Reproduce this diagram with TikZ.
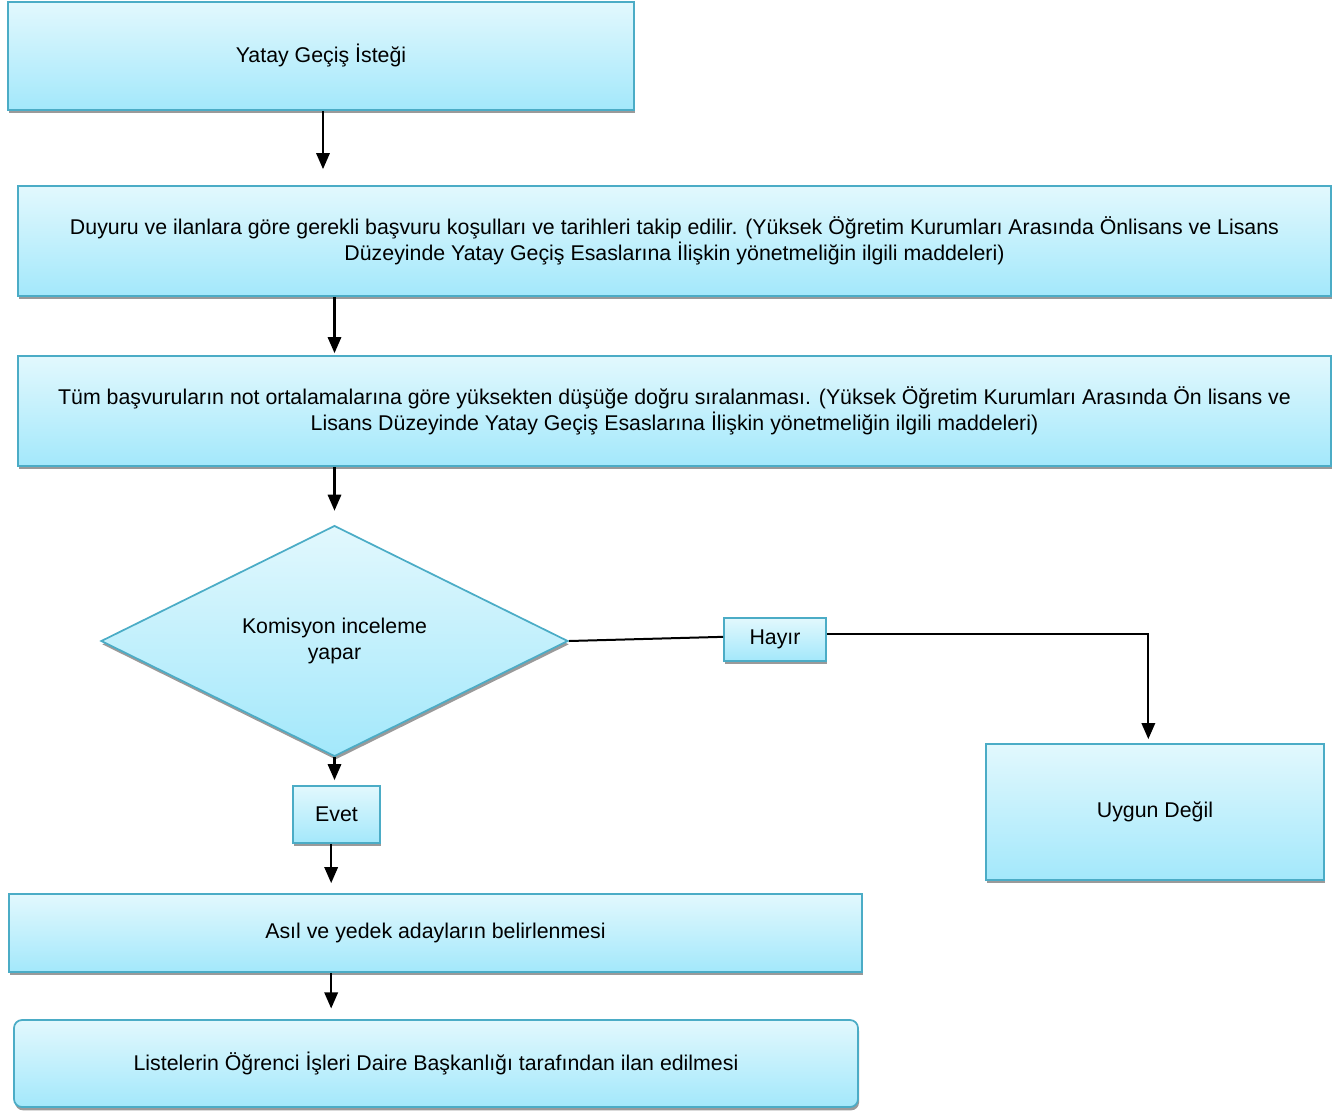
\documentclass[tikz,border=0pt]{standalone}
\usepackage{fontspec}
\setmainfont{Liberation Sans}
\usetikzlibrary{shapes.geometric,shadows,arrows.meta}
\definecolor{bordc}{HTML}{4BACC6}
\definecolor{topc}{HTML}{E2F8FD}
\definecolor{botc}{HTML}{A3E8FB}
\definecolor{shadc}{HTML}{9A9A9A}
\tikzset{
  box/.style={draw=bordc, line width=1.3pt, top color=topc, bottom color=botc,
    inner sep=2pt, align=center, font=\fontsize{16}{19.5}\selectfont,
    drop shadow={shadow xshift=0.8pt, shadow yshift=-2.5pt, fill=shadc, opacity=1}},
  arr/.style={line width=1.6pt, -{Triangle[width=10pt,length=12pt]}},
  conn/.style={line width=1.5pt}
}
\begin{document}
\begin{tikzpicture}[x=0.75pt,y=-0.75pt]
\useasboundingbox (0,0) rectangle (1333,1110);
\node[box, minimum width=469.5pt, minimum height=81pt] (b1) at (321,56) {Yatay Geçiş İsteği};
\node[box, minimum width=984.75pt, minimum height=82.5pt] (b2) at (674.5,241)
  {Duyuru ve ilanlara göre gerekli başvuru koşulları ve tarihleri takip edilir. (Yüksek Öğretim Kurumları Arasında Önlisans ve Lisans\\Düzeyinde Yatay Geçiş Esaslarına İlişkin yönetmeliğin ilgili maddeleri)};
\node[box, minimum width=984.75pt, minimum height=82.5pt] (b3) at (674.5,411)
  {Tüm başvuruların not ortalamalarına göre yüksekten düşüğe doğru sıralanması. (Yüksek Öğretim Kurumları Arasında Ön lisans ve\\Lisans Düzeyinde Yatay Geçiş Esaslarına İlişkin yönetmeliğin ilgili maddeleri)};
\node[box, diamond, inner sep=0pt, minimum width=350.25pt, minimum height=172.5pt] (dia) at (334.5,641) {Komisyon inceleme\\yapar};
\node[box, minimum width=76.5pt, minimum height=32.25pt] (hayir) at (775,639.5) {Hayır};
\node[box, minimum width=253.5pt, minimum height=102pt] (uygun) at (1155,812) {Uygun Değil};
\node[box, minimum width=65.25pt, minimum height=42.75pt] (evet) at (336.5,814.5) {Evet};
\node[box, minimum width=639.75pt, minimum height=58.5pt] (asil) at (435.5,933) {Asıl ve yedek adayların belirlenmesi};
\node[box, rounded corners=6pt, minimum width=633pt, minimum height=65.25pt] (list) at (436,1063.5) {Listelerin Öğrenci İşleri Daire Başkanlığı tarafından ilan edilmesi};

\draw[arr, shorten >=12pt] ([xshift=1.5pt]b1.south) -- ([xshift=1.5pt]b1.south |- b2.north);
\draw[arr, shorten >=1.5pt] (b2.south -| dia.north) -- (b3.north -| dia.north);
\draw[arr, shorten >=10.5pt] (b3.south -| dia.north) -- (dia.north);
\draw[arr, shorten >=3.75pt] (dia.south) -- (evet.north -| dia.south);
\draw[arr, shorten >=7.5pt] ([xshift=-4pt]evet.south) -- ([xshift=-4pt]evet.south |- asil.north);
\draw[arr, shorten >=8pt] ([xshift=-4pt]asil.south -| evet.south) -- ([xshift=-4pt]list.north -| evet.south);
\draw[conn] (dia.east) -- ([yshift=2pt]hayir.west);
\draw[arr, shorten >=3pt] ([yshift=4pt]hayir.east) -- ([xshift=-5pt,yshift=4pt]hayir.east -| uygun.north) -- ([xshift=-5pt]uygun.north);
\end{tikzpicture}
\end{document}
